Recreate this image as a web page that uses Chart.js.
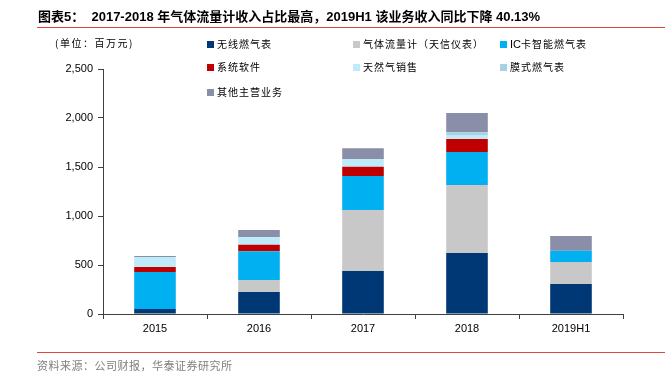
<!DOCTYPE html>
<html>
<head>
<meta charset="utf-8">
<script src="https://cdn.jsdelivr.net/npm/chart.js@4"></script>
<style>
  html, body { margin: 0; padding: 0; background: #fff; }
  #wrap { position: relative; width: 669px; height: 381px; overflow: hidden; }
  #chartBox { position: absolute; left: 0; top: 0; width: 669px; height: 381px; }
  .title { position: absolute; left: 38px; top: 6px; font: bold 13px "Liberation Sans", "Noto Sans CJK SC", sans-serif; color: #000; white-space: nowrap; }
  .rule { position: absolute; left: 37px; width: 628px; height: 1px; background: #e0463c; }
  .unit { position: absolute; left: 55px; top: 35px; font: 10px "Noto Sans CJK SC", sans-serif; color: #000; letter-spacing: 1.5px; }
  .source { position: absolute; left: 37px; top: 357px; font: 11px "Noto Sans CJK SC", sans-serif; color: #7f7f7f; letter-spacing: 0.5px; }
  .leg { position: absolute; font: 10px "Noto Sans CJK SC", sans-serif; color: #000; white-space: nowrap; letter-spacing: 1px; line-height: 14px; }
  .leg i { display: inline-block; width: 7px; height: 7px; margin-right: 3px; vertical-align: 0px; }
  .leg .lat { font-family: "Liberation Sans", sans-serif; font-size: 11px; letter-spacing: 0; }
</style>
</head>
<body>
<div id="wrap">
  <div id="chartBox"><canvas id="revChart"></canvas></div>
  <div class="title">图表5：&nbsp;&nbsp;2017-2018 年气体流量计收入占比最高，2019H1 该业务收入同比下降 40.13%</div>
  <div class="rule" style="top:27px"></div>
  <div class="unit">(单位：百万元)</div>
  <div id="legend"></div>
  <div class="rule" style="top:352px"></div>
  <div class="source">资料来源：公司财报，华泰证券研究所</div>
</div>
<script>
// Revenue by business line, million CNY
const categories = ['2015', '2016', '2017', '2018', '2019H1'];
const wireless   = [50, 224, 439, 622, 306];   // 无线燃气表
const flowmeter  = [0, 123, 622, 694, 225];    // 气体流量计（天信仪表）
const icCard     = [379, 293, 347, 337, 115];  // IC卡智能燃气表
const software   = [51, 67, 95, 132, 0];       // 系统软件
const gasSales   = [102, 79, 79, 42, 0];       // 天然气销售
const diaphragm  = [0, 0, 0, 27, 0];           // 膜式燃气表
const others     = [10, 71, 109, 197, 150];    // 其他主营业务
const yTicks     = [0, 500, 1000, 1500, 2000, 2500];

const series = [
  { label: '无线燃气表', data: wireless, color: '#003775' },
  { label: '气体流量计（天信仪表）', data: flowmeter, color: '#c8c8c8' },
  { label: 'IC卡智能燃气表', data: icCard, color: '#00b0f0' },
  { label: '系统软件', data: software, color: '#c00000' },
  { label: '天然气销售', data: gasSales, color: '#bfeaf9' },
  { label: '膜式燃气表', data: diaphragm, color: '#a6d2e4' },
  { label: '其他主营业务', data: others, color: '#8a8ea8' },
];

// legend slots: [left, top] of each item, 3 columns like the source
const legendPos = [[207, 37], [353, 37], [500, 37], [207, 60], [353, 60], [500, 60], [207, 85]];

const legendEl = document.getElementById('legend');
series.forEach((s, i) => {
  const d = document.createElement('div');
  d.className = 'leg';
  d.style.left = legendPos[i][0] + 'px';
  d.style.top = legendPos[i][1] + 'px';
  const txt = s.label.replace(/^IC/, '<span class="lat">IC</span>');
  d.innerHTML = `<i style="background:${s.color}"></i>${txt}`;
  legendEl.appendChild(d);
});

const AXIS = '#404040';
const TICK_FONT = { family: 'Liberation Sans', size: 11 };

new Chart(document.getElementById('revChart'), {
  type: 'bar',
  data: {
    labels: categories,
    datasets: series.map((s) => ({
      label: s.label,
      data: s.data,
      backgroundColor: s.color,
      borderWidth: 0,
      categoryPercentage: 1,
      barPercentage: 0.4,
    })),
  },
  options: {
    responsive: true,
    maintainAspectRatio: false,
    animation: false,
    layout: { padding: { left: 0, top: 69, right: 46, bottom: 0 } },
    plugins: { legend: { display: false }, tooltip: { enabled: false } },
    scales: {
      x: {
        stacked: true,
        border: { color: AXIS, width: 1 },
        grid: { offset: true, drawOnChartArea: false, drawTicks: true, tickLength: 5, color: AXIS },
        ticks: { color: '#000', font: TICK_FONT, padding: 3 },
        afterFit: (scale) => { scale.height = 67; },
      },
      y: {
        stacked: true,
        min: 0,
        max: yTicks[yTicks.length - 1],
        border: { color: AXIS, width: 1 },
        grid: { drawOnChartArea: false, drawTicks: true, tickLength: 5, color: AXIS },
        afterBuildTicks: (scale) => { scale.ticks = yTicks.map((v) => ({ value: v })); },
        ticks: {
          color: '#000',
          font: TICK_FONT,
          padding: 5,
          callback: (v) => Number(v).toLocaleString('en-US'),
        },
        afterFit: (scale) => { scale.width = 103; },
      },
    },
  },
});
</script>
</body>
</html>
